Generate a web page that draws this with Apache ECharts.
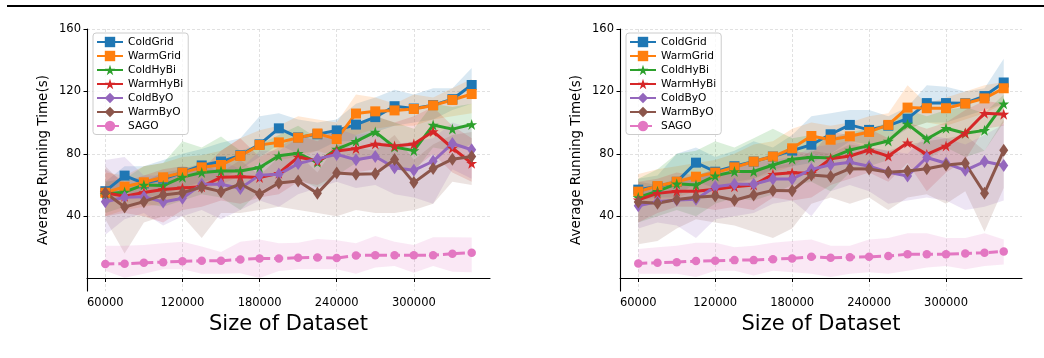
<!DOCTYPE html>
<html>
<head>
<meta charset="utf-8">
<script src="https://cdn.jsdelivr.net/npm/echarts@6/dist/echarts.min.js"></script>
<style>
  html, body { margin: 0; padding: 0; background: #fff; }
  #main { width: 1044px; height: 358px; }
</style>
</head>
<body>
<div id="main"></div>
<script>
// dataset sizes (x) and ticks
const sizes = [60000, 75000, 90000, 105000, 120000, 135000, 150000, 165000, 180000, 195000,
               210000, 225000, 240000, 255000, 270000, 285000, 300000, 315000, 330000, 345000];
const xTicks = [60000, 120000, 180000, 240000, 300000];
const yTicks = [40, 80, 120, 160];
const methods = ['ColdGrid', 'WarmGrid', 'ColdHyBi', 'WarmHyBi', 'ColdByO', 'WarmByO', 'SAGO'];

// ---- left panel ----
const L_ColdGrid    = [56, 66, 61, 64, 68, 72.5, 75, 79, 86, 96.3, 90.5, 92.5, 95, 98.7, 103.5, 110.5, 109, 111.2, 115, 124.1];
const L_ColdGrid_lo = [48, 56, 52, 54, 58, 62, 64, 70, 78, 86, 80, 82, 88, 88, 94, 98, 100, 102, 108, 112];
const L_ColdGrid_hi = [62, 72, 72, 76, 80, 83, 87, 90, 104, 106, 102, 100, 102, 112, 116, 121, 118, 122, 122, 135];

const L_WarmGrid    = [55, 58.9, 61.7, 64.9, 67.9, 71.3, 72.8, 78.6, 85.6, 87.3, 90.3, 93, 89.4, 105.8, 107.2, 107.8, 108.7, 111, 114.5, 118.3];
const L_WarmGrid_lo = [40, 44, 46, 48, 54, 58, 60, 66, 74, 76, 78, 82, 78, 92, 96, 98, 98, 102, 104, 106];
const L_WarmGrid_hi = [68, 66, 72, 74, 78, 79, 82, 90, 95, 98, 104, 102, 100, 118, 116, 112, 118, 116, 122, 128];

const L_ColdHyBi    = [54, 55.5, 60, 59.6, 65, 68, 69, 69, 71.2, 78.7, 80.3, 74.5, 83, 88, 94, 84.3, 82, 98.4, 95.8, 98.8];
const L_ColdHyBi_lo = [42, 46, 48, 46, 50, 54, 52, 44, 56, 62, 64, 58, 66, 74, 80, 70, 68, 84, 82, 86];
const L_ColdHyBi_hi = [62, 64, 72, 74, 88, 84, 91, 82, 86, 92, 98, 90, 96, 98, 104, 100, 96, 112, 110, 112];

const L_WarmHyBi    = [55, 52.8, 55.2, 57.1, 58.1, 58.9, 64.9, 65.3, 64.8, 67.5, 77.9, 75.3, 81.7, 83.3, 86.3, 85, 86.2, 94.3, 83.7, 73.9];
const L_WarmHyBi_lo = [40, 42, 40, 36, 44, 46, 50, 48, 52, 54, 62, 60, 66, 68, 70, 72, 70, 80, 68, 62];
const L_WarmHyBi_hi = [70, 62, 66, 70, 72, 70, 82, 90, 78, 84, 92, 88, 96, 98, 104, 100, 104, 110, 98, 90];

const L_ColdByO     = [49.2, 52.1, 52.5, 49.1, 51.5, 60.5, 60.5, 57.8, 66.3, 66.8, 73.7, 76.7, 79.6, 76.2, 78.2, 71, 69.4, 75.2, 86.6, 82.6];
const L_ColdByO_lo  = [28, 38, 42, 34, 40, 44, 38, 44, 50, 46, 54, 58, 62, 58, 60, 54, 52, 48, 70, 64];
const L_ColdByO_hi  = [76, 78, 66, 66, 66, 74, 76, 70, 82, 82, 90, 92, 96, 92, 94, 86, 88, 90, 100, 96];

const L_WarmByO     = [55, 45.9, 49.3, 53.6, 55, 58.7, 55.7, 60.6, 54.1, 61.3, 62.5, 54.6, 67.7, 66.8, 67.2, 76.3, 61.5, 70.5, 76.5, 78.2];
const L_WarmByO_lo  = [38, 16, 36, 40, 40, 26, 42, 42, 44, 46, 44, 42, 40, 44, 42, 42, 44, 48, 62, 60];
const L_WarmByO_hi  = [72, 60, 62, 68, 70, 74, 68, 76, 66, 78, 80, 68, 86, 84, 82, 92, 76, 86, 92, 94];

const L_SAGO        = [9.3, 9.5, 10.1, 10.5, 11, 11.4, 11.4, 12.2, 12.9, 12.9, 13.3, 13.5, 13.1, 14.8, 15, 15, 15, 15, 15.9, 16.5];
const L_SAGO_lo     = [5, 0.5, 3, 6, 6, 3, 3, 3.4, 0.3, 4.8, 6, 6, 6, 3, 7, 8, 3.7, 8, 4.3, 4];
const L_SAGO_hi     = [21, 21, 21.5, 22.6, 23.6, 20.5, 17, 23.6, 25, 22.6, 23, 25.3, 24.6, 22.6, 27.3, 23.6, 21.5, 26.5, 26.5, 26.3];

// ---- right panel ----
const R_ColdGrid    = [57, 59, 62, 74.3, 68.5, 72, 75, 78.2, 82, 85.8, 92.5, 98.5, 95.3, 98, 102.5, 112.5, 112.5, 112.4, 117, 125.7];
const R_ColdGrid_lo = [50, 52, 52, 62, 58, 62, 64, 70, 72, 74, 80, 88, 86, 88, 96, 100, 100, 104, 108, 112];
const R_ColdGrid_hi = [64, 66, 80, 84, 78, 82, 88, 84, 92, 104, 106, 108, 108, 104, 110, 124, 123, 120, 122, 141];

const R_WarmGrid    = [55.7, 59.3, 62.1, 65.3, 67.9, 71.3, 75, 78.2, 83.5, 91.4, 89, 91.2, 94, 98.5, 109.6, 109.2, 109.2, 112.2, 115.5, 122];
const R_WarmGrid_lo = [46, 48, 52, 56, 58, 60, 64, 68, 72, 80, 78, 82, 84, 90, 96, 100, 98, 102, 106, 112];
const R_WarmGrid_hi = [67, 70, 72, 74, 76, 80, 86, 88, 96, 100, 98, 100, 104, 106, 124, 112, 116, 120, 124, 126];

const R_ColdHyBi    = [52, 56, 60.7, 60, 65.8, 68.6, 68.6, 72.8, 76.5, 77.7, 77.3, 82.4, 85.2, 88.2, 99, 89.5, 96.4, 93.2, 95, 112];
const R_ColdHyBi_lo = [36, 40, 44, 40, 48, 52, 50, 54, 60, 62, 56, 68, 72, 76, 88, 76, 84, 78, 82, 100];
const R_ColdHyBi_hi = [64, 70, 80, 82, 88, 84, 90, 96, 90, 92, 90, 94, 96, 100, 108, 104, 108, 110, 106, 118];

const R_WarmHyBi    = [50.4, 54.6, 56, 56, 57.2, 58.9, 60, 66.8, 67.9, 67.5, 76.8, 78.6, 82.4, 78.5, 87.1, 79.6, 85, 93.3, 106, 105.4];
const R_WarmHyBi_lo = [36, 42, 46, 46, 44, 46, 44, 52, 50, 52, 60, 64, 68, 62, 74, 56, 68, 76, 96, 98];
const R_WarmHyBi_hi = [62, 64, 68, 66, 70, 72, 76, 80, 82, 80, 94, 92, 96, 90, 100, 96, 100, 108, 114, 112];

const R_ColdByO     = [46.7, 49.3, 50.4, 50.8, 58.8, 60.5, 60.4, 63.8, 63.8, 70, 73, 74.6, 72, 68.2, 65.8, 77.6, 73.9, 69.4, 75, 72.5];
const R_ColdByO_lo  = [32, 36, 34, 26, 38, 40, 42, 48, 50, 40, 56, 60, 56, 48, 50, 52, 50, 44, 46, 50];
const R_ColdByO_hi  = [58, 60, 62, 64, 70, 72, 74, 76, 78, 84, 86, 88, 84, 82, 80, 92, 90, 86, 92, 99];

const R_WarmByO     = [49, 48.3, 50.7, 52.1, 52.9, 50.2, 53.6, 56.5, 56.3, 66.4, 65.4, 70.4, 70.2, 68.2, 68.9, 70.4, 72.8, 73.9, 54.7, 82.2];
const R_WarmByO_lo  = [22, 24, 32, 38, 36, 34, 30, 26, 32, 48, 52, 48, 52, 44, 52, 54, 48, 56, 30, 58];
const R_WarmByO_hi  = [62, 60, 64, 66, 70, 66, 70, 72, 74, 82, 80, 86, 84, 82, 86, 88, 90, 92, 82, 102];

const R_SAGO        = [9.7, 10.1, 10.5, 11.2, 11.4, 11.8, 11.8, 12.4, 12.9, 13.9, 13.3, 13.7, 13.9, 14.4, 15.6, 15.6, 15.6, 16.1, 16.5, 17.4];
const R_SAGO_lo     = [3, 3, 3, 1, 5, 5, 2, 5, 4, 3, 1, 3, 4, 3, 5, 7, 8, 6, 8, 9];
const R_SAGO_hi     = [19, 20, 21, 23, 23, 20, 21, 23, 24, 25, 21, 21, 25, 26, 29, 29, 26, 26, 29, 25];

const panels = [
  { mean: [L_ColdGrid, L_WarmGrid, L_ColdHyBi, L_WarmHyBi, L_ColdByO, L_WarmByO, L_SAGO],
    lo:   [L_ColdGrid_lo, L_WarmGrid_lo, L_ColdHyBi_lo, L_WarmHyBi_lo, L_ColdByO_lo, L_WarmByO_lo, L_SAGO_lo],
    hi:   [L_ColdGrid_hi, L_WarmGrid_hi, L_ColdHyBi_hi, L_WarmHyBi_hi, L_ColdByO_hi, L_WarmByO_hi, L_SAGO_hi] },
  { mean: [R_ColdGrid, R_WarmGrid, R_ColdHyBi, R_WarmHyBi, R_ColdByO, R_WarmByO, R_SAGO],
    lo:   [R_ColdGrid_lo, R_WarmGrid_lo, R_ColdHyBi_lo, R_WarmHyBi_lo, R_ColdByO_lo, R_WarmByO_lo, R_SAGO_lo],
    hi:   [R_ColdGrid_hi, R_WarmGrid_hi, R_ColdHyBi_hi, R_WarmHyBi_hi, R_ColdByO_hi, R_WarmByO_hi, R_SAGO_hi] }
];

const FONT = 'DejaVu Sans';
const colors = ['#1f77b4', '#ff7f0e', '#2ca02c', '#d62728', '#9467bd', '#8c564b', '#e377c2'];
const star = 'path://M50,2 L61.8,37.5 L99,37.5 L69,59.5 L80.5,95 L50,73 L19.5,95 L31,59.5 L1,37.5 L38.2,37.5 Z';
const symbols = ['rect', 'rect', star, star, 'diamond', 'diamond', 'circle'];
const symbolSizes = [10, 10, 11, 11, [9, 13], [9, 13], 8.5];

const grids = [
  { left: 87, top: 29, width: 403, height: 262 },
  { left: 620, top: 29, width: 402, height: 262 }
];

const gridLine = { show: true, lineStyle: { color: '#d9d9d9', width: 0.8, type: [3, 2] } };
const axisLine = { show: true, lineStyle: { color: '#000', width: 1.1 } };
const plainNum = v => String(v);

const xAxes = grids.map((g, i) => ({
  gridIndex: i, type: 'value', min: 45750, max: 359250,
  axisLine: axisLine,
  axisTick: { show: true, length: 3.5, customValues: xTicks, lineStyle: { color: '#000', width: 1 } },
  axisLabel: { customValues: xTicks, formatter: plainNum, color: '#000', fontFamily: FONT, fontSize: 11.5, margin: 6 },
  splitLine: gridLine,
  name: 'Size of Dataset', nameLocation: 'middle', nameGap: 22,
  nameTextStyle: { color: '#000', fontFamily: FONT, fontSize: 21 }
}));

const yAxes = grids.map((g, i) => ({
  gridIndex: i, type: 'value', min: -8, max: 160,
  axisLine: axisLine,
  axisTick: { show: true, length: 3.5, customValues: yTicks, lineStyle: { color: '#000', width: 1 } },
  axisLabel: { customValues: yTicks, formatter: plainNum, color: '#000', fontFamily: FONT, fontSize: 11.5, margin: 6 },
  splitLine: gridLine,
  name: 'Average Running Time(s)', nameLocation: 'middle', nameGap: 37,
  nameTextStyle: { color: '#000', fontFamily: FONT, fontSize: 13.5 }
}));

// one polygon per band, built from the [x, lo, hi] rows via the axis scales
function bandRenderer(color) {
  return function (params, api) {
    if (params.dataIndexInside !== 0) return null;
    const n = params.dataInsideLength;
    const upper = [], lower = [];
    for (let j = 0; j < n; j++) {
      upper.push(api.coord([api.value(0, j), api.value(2, j)]));
      lower.push(api.coord([api.value(0, j), api.value(1, j)]));
    }
    const pts = upper.concat(lower.reverse());
    return {
      type: 'polygon',
      shape: { points: pts },
      style: { fill: color, opacity: 0.17 },
      silent: true
    };
  };
}

const series = [];
panels.forEach((p, pi) => {
  methods.forEach((m, k) => {
    series.push({
      name: m + '_band' + pi, type: 'custom', xAxisIndex: pi, yAxisIndex: pi,
      data: sizes.map((s, j) => [s, p.lo[k][j], p.hi[k][j]]),
      encode: { x: 0, y: [1, 2] },
      renderItem: bandRenderer(colors[k]),
      clip: true, silent: true, z: 1
    });
  });
  methods.forEach((m, k) => {
    series.push({
      name: m, type: 'line', xAxisIndex: pi, yAxisIndex: pi,
      data: sizes.map((s, j) => [s, p.mean[k][j]]),
      symbol: symbols[k], symbolSize: symbolSizes[k], showSymbol: true,
      lineStyle: { color: colors[k], width: 3, type: m === 'SAGO' ? [9, 4] : 'solid' },
      itemStyle: { color: colors[k], borderWidth: 0 },
      z: 3
    });
  });
});

const legends = [
  { left: 93, top: 33 },
  { left: 626, top: 33 }
].map(pos => ({
  left: pos.left, top: pos.top, orient: 'vertical',
  data: methods,
  itemWidth: 26, itemHeight: 13, itemGap: 3,
  padding: [3.5, 5, 3, 3],
  backgroundColor: 'rgba(255,255,255,0.8)',
  borderColor: '#cccccc', borderWidth: 1, borderRadius: 3,
  textStyle: { color: '#000', fontFamily: FONT, fontSize: 10.6 },
  selectedMode: false
}));

const chart = echarts.init(document.getElementById('main'), null, { renderer: 'canvas' });
chart.setOption({
  animation: false,
  backgroundColor: '#ffffff',
  textStyle: { fontFamily: FONT },
  grid: grids,
  xAxis: xAxes,
  yAxis: yAxes,
  legend: legends,
  graphic: [{
    type: 'line', shape: { x1: 7, y1: 6, x2: 1044, y2: 6 },
    style: { stroke: '#000', lineWidth: 2 }
  }],
  series: series
});
</script>
</body>
</html>
